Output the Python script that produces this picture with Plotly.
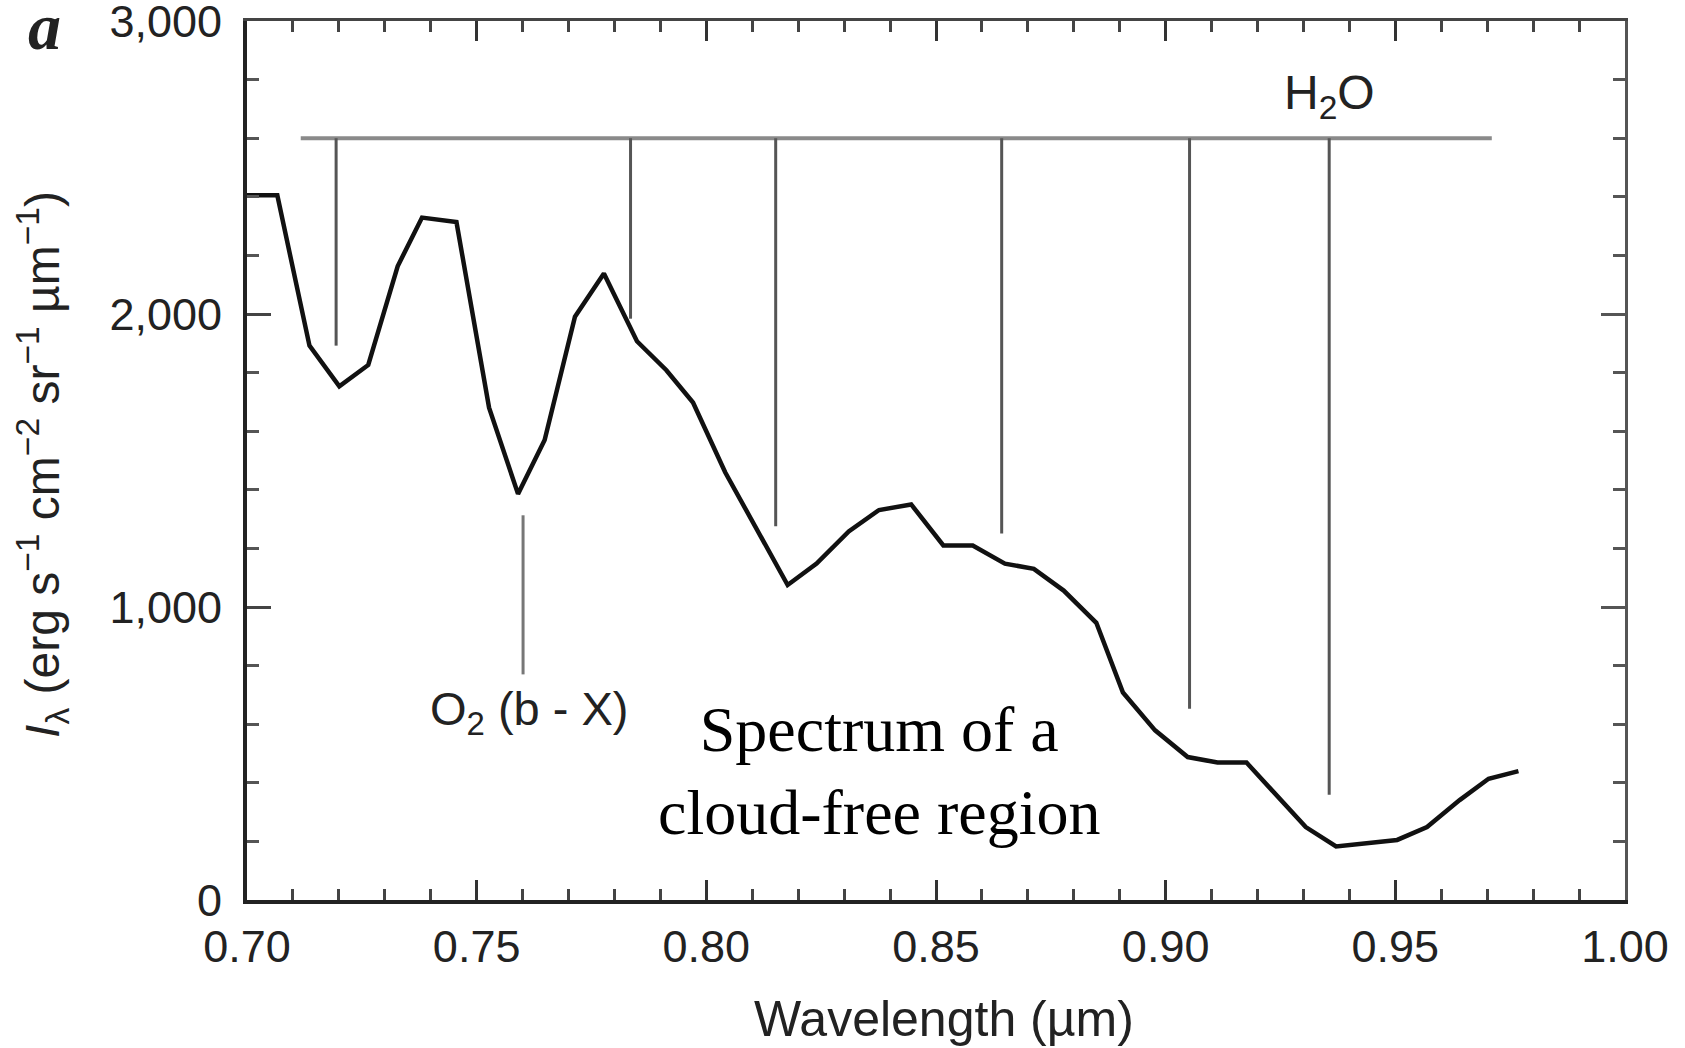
import plotly.graph_objects as go

# Spectrum of a cloud-free region (wavelength in um, radiance)
wavelength = [0.700, 0.7066, 0.7136, 0.7201, 0.7264, 0.7328, 0.7381, 0.7456, 0.7527, 0.7590,
              0.7648, 0.7714, 0.7777, 0.7849, 0.7913, 0.7971, 0.8041, 0.8112, 0.8177, 0.8240,
              0.8310, 0.8376, 0.8446, 0.8516, 0.8580, 0.8650, 0.8713, 0.8778, 0.8849, 0.8907,
              0.8977, 0.9048, 0.9113, 0.9176, 0.9242, 0.9305, 0.9371, 0.9438, 0.9504, 0.9569,
              0.9640, 0.9703, 0.9768]
radiance = [2405, 2405, 1892, 1753, 1826, 2163, 2329, 2314, 1680, 1386,
            1570, 1991, 2138, 1907, 1808, 1698, 1460, 1258, 1075, 1148,
            1258, 1331, 1350, 1210, 1210, 1148, 1130, 1056, 946, 708,
            579, 488, 469, 469, 359, 249, 183, 194, 205, 249,
            341, 414, 440]

# H2O band markers
h2o_bar_x = [0.7117, 0.971]
h2o_bar_y = 2600
h2o_band_x = [0.7194, 0.7835, 0.8151, 0.8643, 0.9052, 0.9356]
h2o_band_bottom = [1892, 1984, 1276, 1251, 653, 359]

# O2 (b - X) band marker
o2_band_x = 0.7601
o2_band_y = [1313, 770]

x_ticks = [0.70, 0.75, 0.80, 0.85, 0.90, 0.95, 1.00]
y_ticks = [0, 1000, 2000, 3000]

fig = go.Figure()

fig.add_trace(go.Scatter(x=h2o_bar_x, y=[h2o_bar_y, h2o_bar_y], mode="lines",
                         line=dict(color="#8a8a8a", width=4), hoverinfo="skip", showlegend=False))
vx, vy = [], []
for xv, yb in zip(h2o_band_x, h2o_band_bottom):
    vx += [xv, xv, None]
    vy += [h2o_bar_y, yb, None]
fig.add_trace(go.Scatter(x=vx, y=vy, mode="lines",
                         line=dict(color="#555555", width=3), hoverinfo="skip", showlegend=False))
fig.add_trace(go.Scatter(x=[o2_band_x, o2_band_x], y=o2_band_y, mode="lines",
                         line=dict(color="#777777", width=3), hoverinfo="skip", showlegend=False))
fig.add_trace(go.Scatter(x=wavelength, y=radiance, mode="lines",
                         line=dict(color="#111111", width=4.5), showlegend=False))
fig.add_trace(go.Scatter(x=[0.7], y=[0], xaxis="x2", yaxis="y2", mode="markers",
                         marker=dict(opacity=0), hoverinfo="skip", showlegend=False))

tickfont = dict(family="Liberation Sans, Arial, sans-serif", size=45, color="#222222")

fig.update_layout(
    width=1685, height=1048,
    margin=dict(l=247, r=60, t=21, b=148, autoexpand=False),
    paper_bgcolor="white", plot_bgcolor="white",
    xaxis=dict(range=[0.70, 1.00], tickvals=x_ticks, ticktext=[f"{v:.2f}" for v in x_ticks],
               ticks="inside", ticklen=20, tickwidth=2.5, tickcolor="#333333", automargin=False,
               showline=True, linewidth=4, linecolor="#222222", showgrid=False, zeroline=False,
               tickfont=tickfont, ticklabelstandoff=4, ticklabeloverflow="allow",
               minor=dict(ticks="inside", dtick=0.01, tick0=0.70, ticklen=11, tickwidth=2.5,
                          tickcolor="#444444", showgrid=False)),
    yaxis=dict(range=[0, 3000], tickvals=y_ticks, ticktext=["0", "1,000", "2,000", "3,000"],
               ticks="inside", ticklen=24, tickwidth=2.5, tickcolor="#444444", automargin=False,
               showline=True, linewidth=4, linecolor="#222222", showgrid=False, zeroline=False,
               tickfont=tickfont, ticklabelstandoff=12, ticklabeloverflow="allow",
               minor=dict(ticks="inside", dtick=200, tick0=0, ticklen=12, tickwidth=2.5,
                          tickcolor="#555555", showgrid=False)),
    xaxis2=dict(range=[0.70, 1.00], overlaying="x", side="top", showticklabels=False,
                tickvals=x_ticks, ticks="inside", ticklen=20, tickwidth=2.5, tickcolor="#333333",
                showline=True, linewidth=2.5, linecolor="#444444", showgrid=False, zeroline=False,
                automargin=False,
                minor=dict(ticks="inside", dtick=0.01, tick0=0.70, ticklen=11, tickwidth=2.5,
                           tickcolor="#444444", showgrid=False)),
    yaxis2=dict(range=[0, 3000], overlaying="y", side="right", showticklabels=False,
                tickvals=y_ticks, ticks="inside", ticklen=24, tickwidth=2.5, tickcolor="#555555",
                showline=True, linewidth=2.5, linecolor="#555555", showgrid=False, zeroline=False,
                automargin=False,
                minor=dict(ticks="inside", dtick=200, tick0=0, ticklen=12, tickwidth=2.5,
                           tickcolor="#555555", showgrid=False)),
)

sans = "Liberation Sans, Arial, sans-serif"
serif = "Liberation Serif, Times New Roman, serif"

def note(x, y, text, font, xref="x", yref="y", angle=0):
    fig.add_annotation(x=x, y=y, xref=xref, yref=yref, text=text, showarrow=False,
                       xanchor="center", yanchor="middle", textangle=angle, font=font)

note(0.9356, 2745, "H<sub>2</sub>O", dict(family=sans, size=48, color="#222222"))
note(0.7613, 640, "O<sub>2</sub> (b - X)", dict(family=sans, size=47, color="#222222"))
note(0.8376, 440, "Spectrum of a<br>cloud-free region", dict(family=serif, size=64, color="black"))
note(0.5058, -0.1354, "Wavelength (µm)", dict(family=sans, size=50, color="#222222"),
     xref="paper", yref="paper")
note(-0.148, 0.495,
     "<i>I</i><sub>λ</sub> (erg s<sup>−1</sup> cm<sup>−2</sup> sr<sup>−1</sup> µm<sup>−1</sup>)",
     dict(family=sans, size=48, color="#222222"), xref="paper", yref="paper", angle=-90)
note(-0.1473, 0.994, "<b><i>a</i></b>", dict(family=serif, size=66, color="#222222"),
     xref="paper", yref="paper")

fig.write_html("out.html")
